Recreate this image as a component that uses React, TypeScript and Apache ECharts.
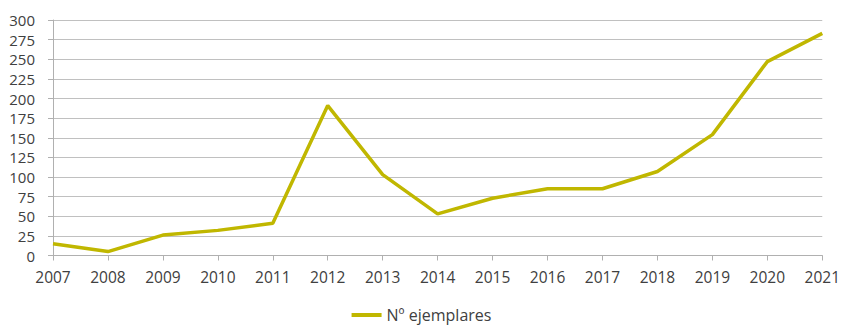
import React, { useEffect, useRef } from "react";
import * as echarts from "echarts";

const years = ["2007","2008","2009","2010","2011","2012","2013","2014","2015","2016","2017","2018","2019","2020","2021"];
const ejemplares = [15, 5, 26, 32, 41, 191, 103, 53, 73, 85, 85, 107, 154, 247, 283];
const seriesName = "Nº ejemplares";

export default function App() {
  const ref = useRef<HTMLDivElement>(null);
  useEffect(() => {
    if (!ref.current) return;
    const chart = echarts.init(ref.current, null, { renderer: "svg" });
    const font = "'Open Sans', sans-serif";
    chart.setOption({
      animation: false,
      grid: { left: 53, right: 19, top: 20, bottom: 73.5, containLabel: false },
      legend: {
        bottom: 1,
        left: "center",
        data: [{ name: seriesName, icon: "rect" }],
        itemWidth: 30,
        itemHeight: 4,
        itemGap: 5,
        textStyle: { color: "#404040", fontSize: 16, fontFamily: font },
      },
      xAxis: {
        type: "category",
        data: years,
        boundaryGap: false,
        axisLine: { lineStyle: { color: "#b0b0b0", width: 1 } },
        axisTick: { show: true, length: 5, lineStyle: { color: "#b0b0b0" } },
        axisLabel: { color: "#404040", fontSize: 15.5, fontFamily: font, margin: 13, interval: 0 },
        splitLine: { show: false },
      },
      yAxis: {
        type: "value",
        min: 0,
        max: 300,
        interval: 25,
        axisLine: { show: true, lineStyle: { color: "#b0b0b0", width: 1 } },
        axisTick: { show: true, length: 5, lineStyle: { color: "#b0b0b0" } },
        axisLabel: { color: "#404040", fontSize: 15, fontFamily: font, margin: 18 },
        splitLine: { show: true, lineStyle: { color: "#c0c0c0", width: 1 } },
      },
      series: [
        {
          name: seriesName,
          type: "line",
          data: ejemplares,
          symbol: "none",
          lineStyle: { color: "#c0b700", width: 3.5 },
          itemStyle: { color: "#c0b700" },
        },
      ],
    });
    return () => chart.dispose();
  }, []);
  return <div ref={ref} style={{ width: 843, height: 329, position: "absolute", left: 0, top: 0 }} />;
}
